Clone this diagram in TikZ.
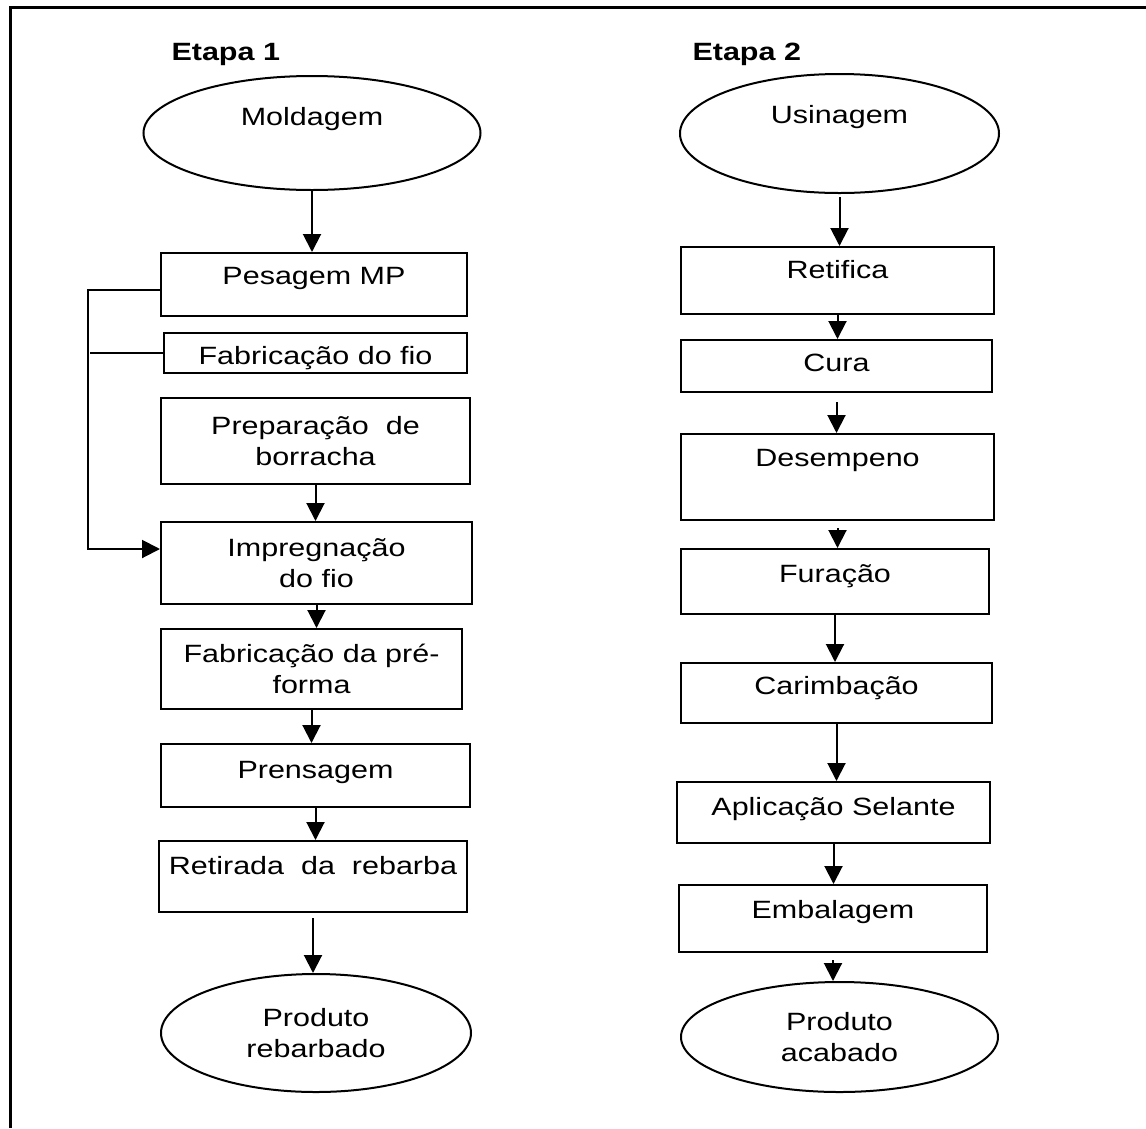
\documentclass[tikz,border=0pt]{standalone}
\usepackage{fontspec}
\setmainfont{Liberation Sans}[FakeStretch=1.22]
\usetikzlibrary{arrows.meta,shapes.geometric}

\begin{document}
\begin{tikzpicture}[x=1pt,y=-1pt,font=\fontsize{25}{31.5}\selectfont]
        \tikzstyle{caixa} = [draw, line width=2pt, rectangle, inner sep=0pt, align=center, anchor=north west]
        \tikzstyle{oval} = [draw, line width=2pt, ellipse, inner sep=0pt, align=center]
        \tikzstyle{seta} = [line width=2pt, -{Triangle[length=18pt,width=18pt]}]
        \tikzstyle{etapa} = [anchor=base west, font=\fontsize{25}{30}\selectfont\bfseries]

        \useasboundingbox (0,0) rectangle (1146,1128);
        \draw[line width=3pt] (10,1128) -- (10,7) -- (1146,7);

		% Etapa 1
		\node[etapa] (et1) at (168,60) {Etapa 1};
		\node[oval, minimum width=337pt, minimum height=114pt, text height=20pt, text depth=36pt] (mold) at (312,133) {Moldagem};
		\node[caixa, minimum width=306pt, text height=31pt, text depth=32pt] (pes) at (160,252) {Pesagem MP};
		\node[caixa, minimum width=303pt, text height=31pt, text depth=9pt] (fab) at (163,332) {Fabrica\c{c}\~ao do fio};
		\node[caixa, minimum width=309pt, minimum height=86pt] (prep) at (160,397) {Prepara\c{c}\~ao \ de\\borracha};
		\node[caixa, minimum width=311pt, minimum height=82pt] (imp) at (160,521) {Impregna\c{c}\~ao\\do fio};
		\node[caixa, minimum width=301pt, minimum height=80pt] (pref) at (160,628) {Fabrica\c{c}\~ao da pr\'e-\\forma};
		\node[caixa, minimum width=309pt, text height=34pt, text depth=29pt] (pren) at (160,743) {Prensagem};
		\node[caixa, minimum width=308pt, text height=33pt, text depth=38pt] (ret) at (158,840) {Retirada \ da \ rebarba};
		\node[oval, minimum width=310pt, minimum height=118pt] (prod1) at (316,1033) {Produto\\rebarbado};

		\draw[seta] (mold.south) -- (mold.south |- pes.north);
		\draw[seta] (prep.south) -- (prep.south |- imp.north);
		\draw[seta] (imp.south) -- (imp.south |- pref.north);
		\draw[seta] (pref.south) -- (pref.south |- pren.north);
		\draw[seta] (pren.south) -- (pren.south |- ret.north);
		\draw[seta, shorten <=5pt] (ret.south) -- (ret.south |- prod1.north);

		\draw[seta] ([yshift=-5pt]pes.west) -- ++(-72,0) |- ([yshift=14pt]imp.west);
		\draw[line width=2pt] (fab.west) -- ++(-73,0);

		% Etapa 2
		\node[etapa] (et2) at (689,60) {Etapa 2};
		\node[oval, minimum width=319pt, minimum height=119pt, text height=20pt, text depth=41pt] (usin) at (839.5,133.5) {Usinagem};
		\node[caixa, minimum width=313pt, text height=31pt, text depth=36pt] (retif) at (680,246) {Retifica};
		\node[caixa, minimum width=311pt, text height=31pt, text depth=21pt] (cura) at (680,339) {Cura};
		\node[caixa, minimum width=313pt, text height=32pt, text depth=54pt] (desemp) at (680,433) {Desempeno};
		\node[caixa, minimum width=308pt, text height=33pt, text depth=32pt] (fura) at (680,548) {Fura\c{c}\~ao};
		\node[caixa, minimum width=311pt, text height=31pt, text depth=29pt] (carim) at (680,662) {Carimba\c{c}\~ao};
		\node[caixa, minimum width=313pt, text height=33pt, text depth=28pt] (aplic) at (676,781) {Aplica\c{c}\~ao Selante};
		\node[caixa, minimum width=308pt, text height=33pt, text depth=34pt] (emb) at (678,884) {Embalagem};
		\node[oval, minimum width=317pt, minimum height=110pt] (prod2) at (839.5,1037) {Produto\\acabado};

		\draw[seta, shorten <=3pt] (usin.south) -- (usin.south |- retif.north);
		\draw[seta] (retif.south) -- (retif.south |- cura.north);
		\draw[seta, shorten <=9pt] (cura.south) -- (cura.south |- desemp.north);
		\draw[seta, shorten <=7pt] (desemp.south) -- (desemp.south |- fura.north);
		\draw[seta] (fura.south) -- (fura.south |- carim.north);
		\draw[seta] (carim.south) -- (carim.south |- aplic.north);
		\draw[seta] (aplic.south) -- (aplic.south |- emb.north);
		\draw[seta, shorten <=7pt] (emb.south) -- (emb.south |- prod2.north);

    \end{tikzpicture}
\end{document}
